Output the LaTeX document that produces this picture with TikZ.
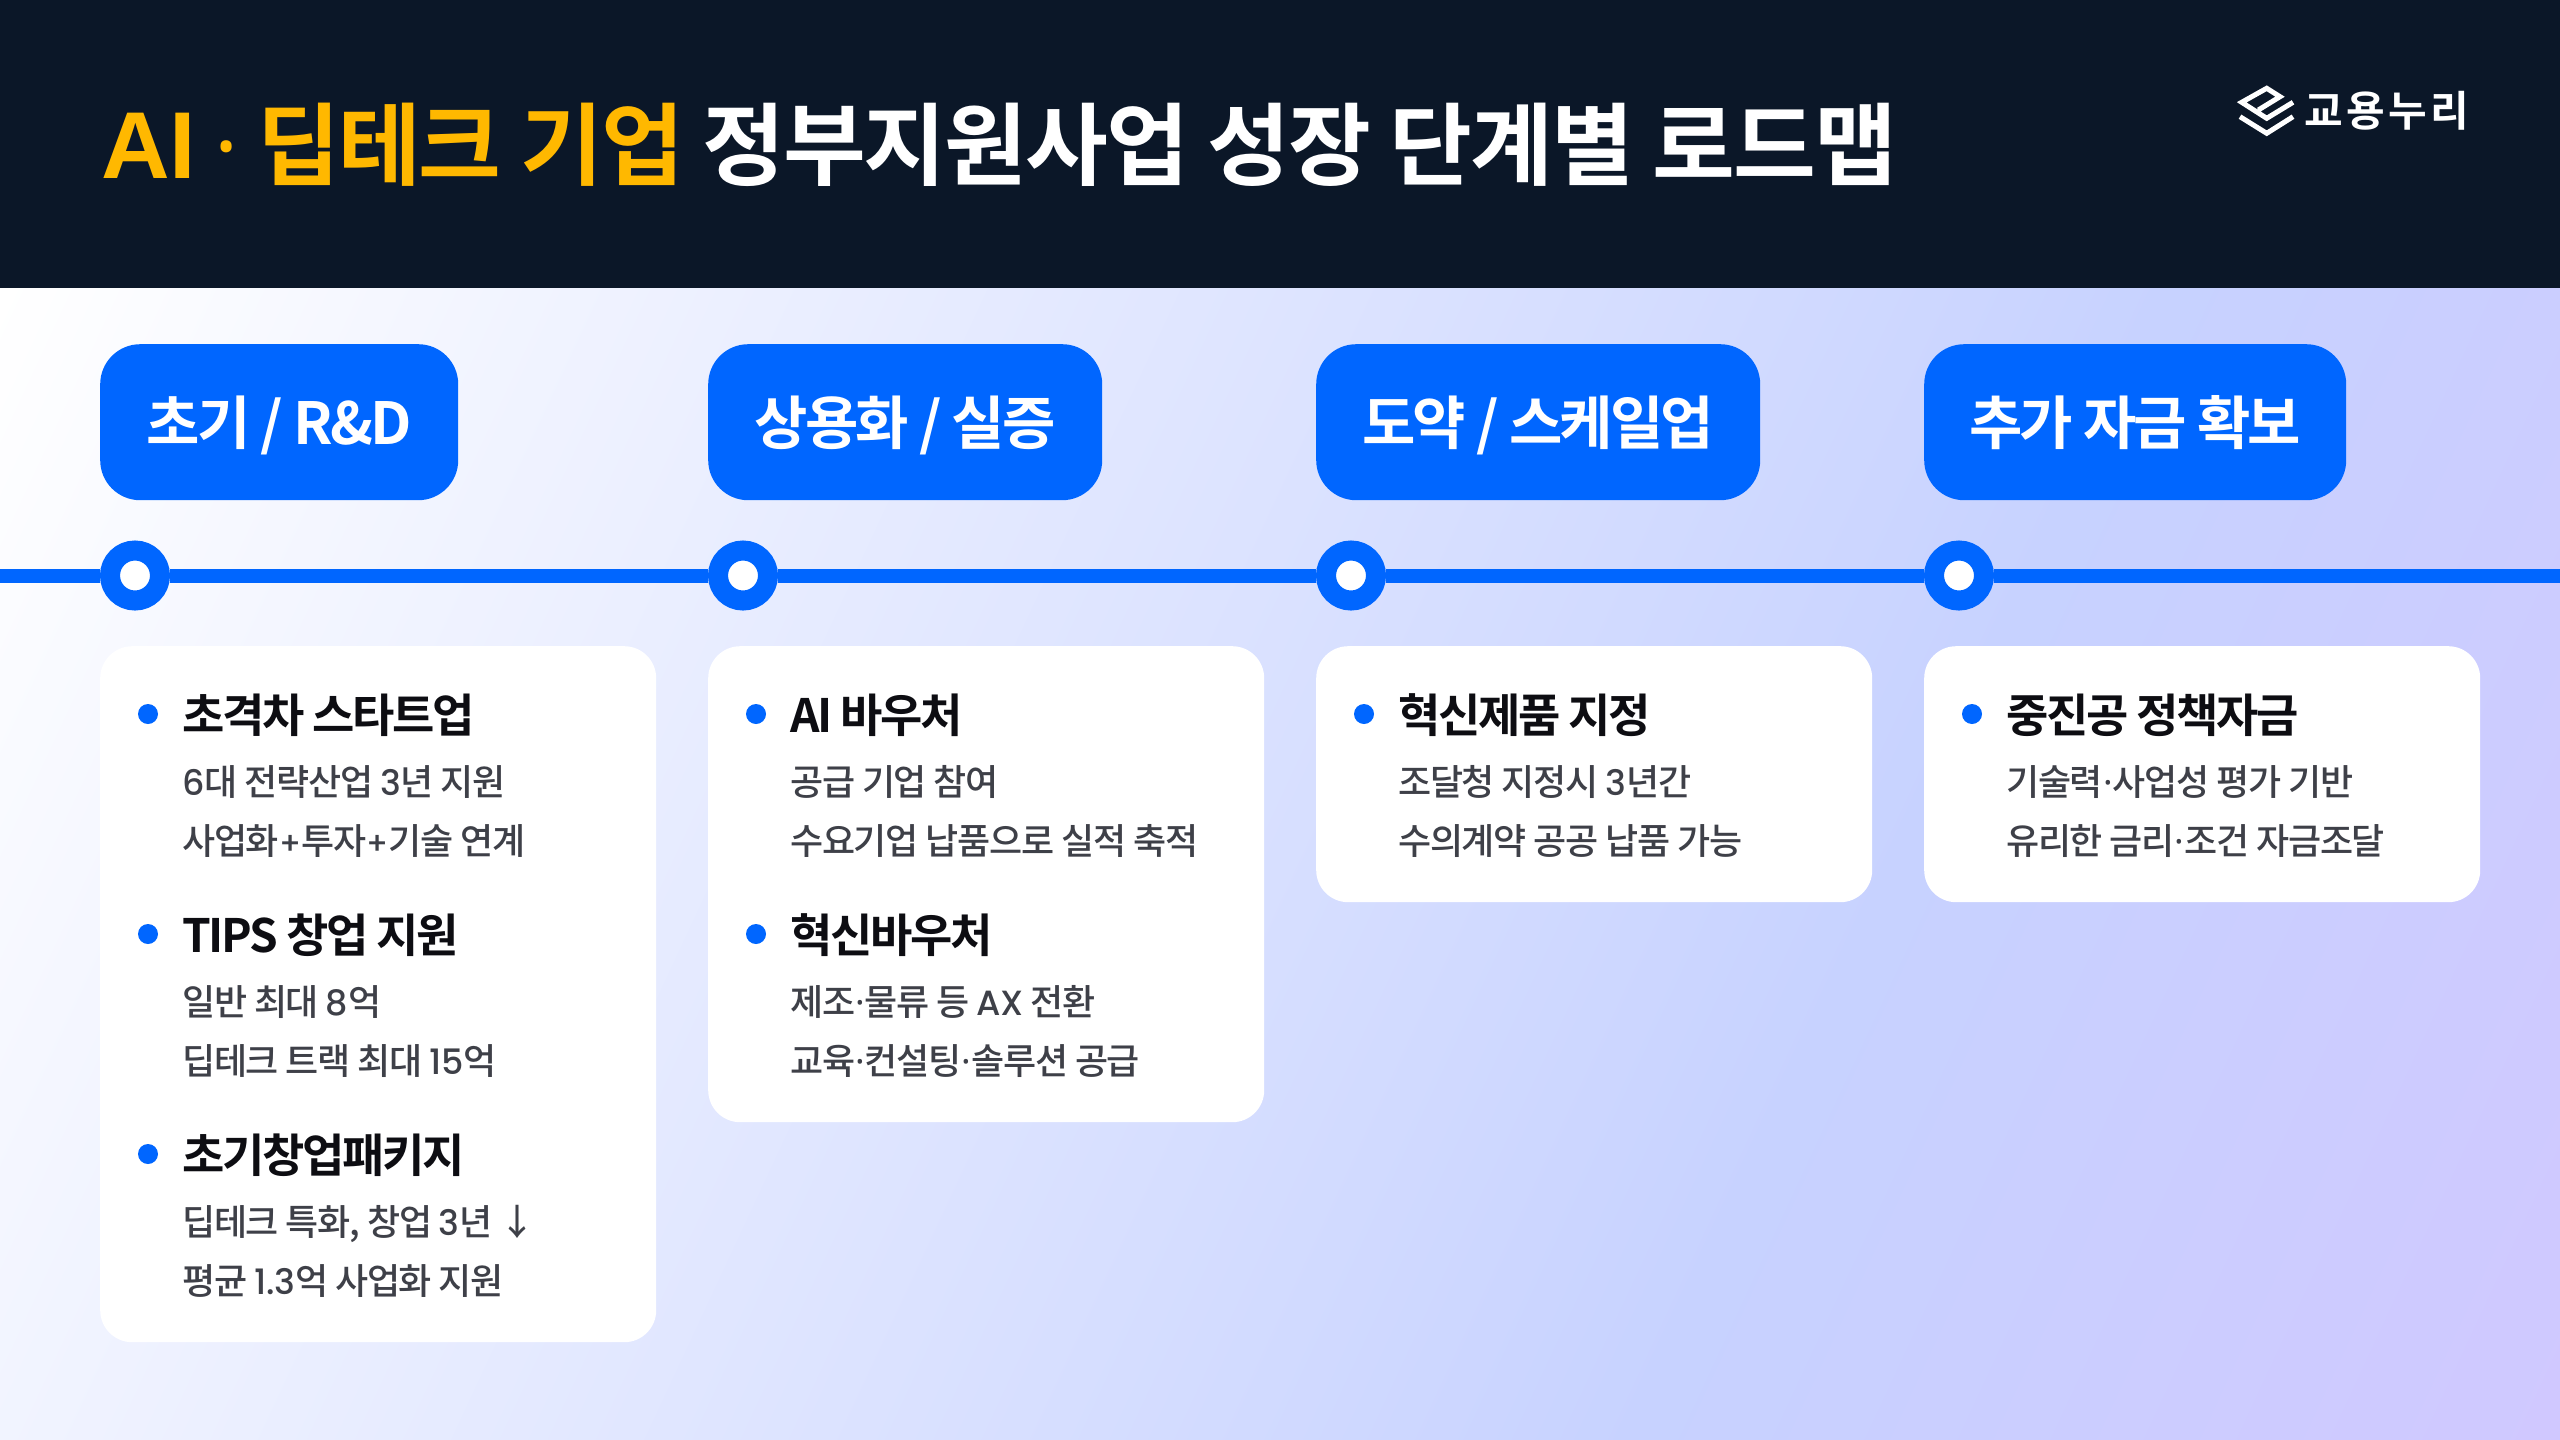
\documentclass[tikz,border=0pt]{standalone}
\usepackage{fontspec}
\setmainfont{Noto Sans CJK KR}
\newfontfamily\hbold[LetterSpace=-5]{Noto Sans CJK KR Bold}
\newfontfamily\tbold[LetterSpace=-2.2]{Noto Sans CJK KR Bold}
\newfontfamily\submed[LetterSpace=-3.5]{Noto Sans CJK KR Medium}
\newfontfamily\logof[LetterSpace=8]{Noto Sans CJK KR Bold}
\newfontfamily\latf{Liberation Sans}
\newfontfamily\dotf{Noto Sans}
\newfontfamily\numf[LetterSpace=-0.5]{Poppins Medium}
\newcommand{\md}{{\dotf\bfseries ·}}
\newcommand{\nm}[1]{{\numf\fontsize{35}{35}\selectfont #1}}
\newcommand{\pl}{{\numf\fontsize{31}{31}\selectfont +}}
\definecolor{gA}{HTML}{FFFFFF}
\definecolor{gC}{HTML}{C7D2FF}
\definecolor{gD}{HTML}{D0C8FF}
\definecolor{navy}{HTML}{0B1728}
\definecolor{mainblue}{HTML}{0066FF}
\definecolor{amber}{HTML}{FFB800}
\definecolor{ink}{HTML}{0D0D12}
\definecolor{subink}{HTML}{3E4048}
\pgfdeclarehorizontalshading{bggrad}{100bp}{color(0bp)=(gA);color(25bp)=(gA);color(60bp)=(gC);color(75bp)=(gD);color(100bp)=(gD)}
\tikzset{
  pill/.style={fill=mainblue,text=white,rounded corners=40pt,inner sep=0pt,anchor=north west,
    minimum height=156pt,text height=100pt,text depth=56pt,align=center,
    font=\hbold\fontsize{58}{58}\selectfont},
  card/.style={fill=white,rounded corners=32pt,inner sep=0pt,anchor=north west,minimum width=556pt},
  dot/.style={circle,draw=mainblue,line width=20pt,fill=white,inner sep=0pt,minimum size=50pt},
  bul/.style={circle,fill=mainblue,inner sep=0pt,minimum size=20pt},
  head/.style={anchor=base west,inner sep=0pt,text=ink,font=\hbold\fontsize{46}{46}\selectfont},
  subt/.style={anchor=base west,inner sep=0pt,text=subink,font=\submed\fontsize{36}{36}\selectfont},
  tline/.style={draw=mainblue,line width=14pt},
  logostroke/.style={draw=white,line width=5pt,miter limit=10}
}
% #1 name, #2 column left x, #3 baseline of head, #4 head, #5 sub 1, #6 sub 2
\newcommand{\cardgroup}[6]{%
  \node[bul] (#1b) at (#2+48,#3-17) {};
  \node[head] (#1h) at (#2+82,#3+1) {#4};
  \node[subt] (#1s) at (#2+82,#3+64) {#5};
  \node[subt] (#1t) at (#2+82,#3+123) {#6};
}
\begin{document}
\begin{tikzpicture}[x=1pt,y=-1pt]
\useasboundingbox (0,0) rectangle (2560,1440);
\begin{scope}
  \clip (0,288) rectangle (2560,1440);
  \shade[shading=bggrad,shading angle=-25] (-123.5,-539.5) rectangle (2683.5,2267.5);
\end{scope}
\fill[navy] (0,0) rectangle (2560,288);
\node[anchor=base west,inner sep=0pt,font=\tbold\fontsize{90}{90}\selectfont,text=white] (title) at (101,178)
  {\textcolor{amber}{{\latf\bfseries\fontsize{95}{95}\selectfont AI} {\dotf\bfseries ·} 딥테크 기업} 정부지원사업 성장 단계별 로드맵};
% logo
\coordinate (la) at (2258.3,110);
\coordinate (lb) at (2280,96.7);
\coordinate (lc) at (2266.7,88.3);
\coordinate (ld) at (2241.7,102.3);
\coordinate (le) at (2266.7,118.3);
\coordinate (lf) at (2293,102.3);
\coordinate (lg) at (2240,116.7);
\coordinate (lh) at (2266.7,133.3);
\coordinate (li) at (2293,116.7);
\draw[logostroke] (la) -- (lb) -- (lc) -- (ld) -- (le) -- (lf);
\draw[logostroke] (lg) -- (lh) -- (li);
\node[anchor=base west,inner sep=0pt,text=white,font=\logof\fontsize{42}{42}\selectfont] (logo) at (2304,126) {교용누리};
% timeline
\coordinate (tl) at (0,575.5);
\coordinate (tr) at (2560,575.5);
\node[dot] (c1) at (135,575.5) {};
\node[dot] (c2) at (743,575.5) {};
\node[dot] (c3) at (1351,575.5) {};
\node[dot] (c4) at (1959,575.5) {};
\draw[tline] (tl) -- (c1);
\draw[tline] (c1) -- (c2);
\draw[tline] (c2) -- (c3);
\draw[tline] (c3) -- (c4);
\draw[tline] (c4) -- (tr);
% pills
\node[pill,minimum width=358pt] (p1) at (100,344) {초기 / R\&D};
\node[pill,minimum width=394pt] (p2) at (708,344) {상용화 / 실증};
\node[pill,minimum width=444pt] (p3) at (1316,344) {도약 / 스케일업};
\node[pill,minimum width=422pt] (p4) at (1924,344) {추가 자금 확보};
% cards
\node[card,minimum height=696pt] (k1) at (100,646) {};
\node[card,minimum height=476pt] (k2) at (708,646) {};
\node[card,minimum height=256pt] (k3) at (1316,646) {};
\node[card,minimum height=256pt] (k4) at (1924,646) {};
\cardgroup{a}{100}{731}{초격차 스타트업}{\nm{6}대 전략산업 \nm{3}년 지원}{사업화\pl 투자\pl 기술 연계}
\cardgroup{b}{100}{951}{TIPS 창업 지원}{일반 최대 \nm{8}억}{딥테크 트랙 최대 \nm{15}억}
\cardgroup{c}{100}{1171}{초기창업패키지}{딥테크 특화, 창업 \nm{3}년 ↓}{평균 \nm{1.3}억 사업화 지원}
\cardgroup{d}{708}{731}{AI 바우처}{공급 기업 참여}{수요기업 납품으로 실적 축적}
\cardgroup{e}{708}{951}{혁신바우처}{제조\md 물류 등 \nm{AX} 전환}{교육\md 컨설팅\md 솔루션 공급}
\cardgroup{f}{1316}{731}{혁신제품 지정}{조달청 지정시 \nm{3}년간}{수의계약 공공 납품 가능}
\cardgroup{g}{1924}{731}{중진공 정책자금}{기술력\md 사업성 평가 기반}{유리한 금리\md 조건 자금조달}
\end{tikzpicture}
\end{document}
